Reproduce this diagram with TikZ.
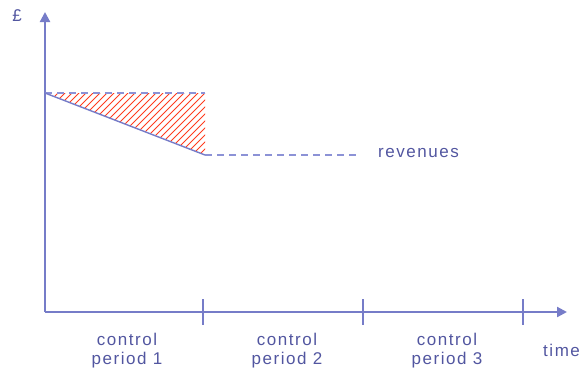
\documentclass[tikz,border=0pt]{standalone}
\usepackage{fontspec}
\setmainfont{Liberation Sans}[LetterSpace=9]
\usetikzlibrary{arrows.meta}
\definecolor{axisblue}{RGB}{118,124,200}
\definecolor{textblue}{RGB}{82,86,160}
\definecolor{dashblue}{RGB}{140,146,214}
\definecolor{hatchred}{RGB}{255,60,30}
\tikzset{
  axis/.style={draw=axisblue, line width=2.2pt, -{Triangle[length=10pt,width=10pt]}},
  tickmark/.style={draw=axisblue, line width=1.6pt},
  dashline/.style={draw=dashblue, line width=1.8pt, dash pattern=on 7pt off 5pt},
  revline/.style={draw=axisblue, line width=1.4pt},
  hatchline/.style={draw=hatchred, line width=1pt},
  lbl/.style={text=textblue, font=\fontsize{17}{19}\selectfont, align=center, inner sep=0pt}
}
\begin{document}
\begin{tikzpicture}[x=1pt, y=-1pt]
\useasboundingbox (0,0) rectangle (584,376);
% axes
\coordinate (O) at (45,312);
\coordinate (ytop) at (45,12);
\coordinate (xend) at (567,312);
\draw[axis] (O) -- (ytop);
\draw[axis] (O) -- (xend);
% period boundaries
\foreach \n/\x in {t1/203, t2/363, t3/523}{
  \coordinate (\n a) at (\x,299);
  \coordinate (\n b) at (\x,325);
  \draw[tickmark] (\n a) -- (\n b);
}
% shaded gap between allowed and actual revenue
\coordinate (A) at (45,93);
\coordinate (B) at (205,93);
\coordinate (C) at (205,155);
\coordinate (D) at (360,155);
\begin{scope}
  \clip (A) -- (B) -- (C) -- cycle;
  \foreach \k in {-70,-63,...,240}{
    \draw[hatchline] (40+\k,160) -- (40+\k+70,90);
  }
\end{scope}
\draw[dashline] (A) -- (B);
\draw[revline] (A) -- (C);
\draw[dashline] (C) -- (D);
% labels
\node[lbl, anchor=west] (rev) at (378,153) {revenues};
\node[lbl] (pound) at (17,16) {£};
\node[lbl, anchor=west] (time) at (543,350) {time};
\node[lbl] (p1) at (127,351) {control\\period 1};
\node[lbl] (p2) at (287,351) {control\\period 2};
\node[lbl] (p3) at (447,351) {control\\period 3};
\end{tikzpicture}
\end{document}
